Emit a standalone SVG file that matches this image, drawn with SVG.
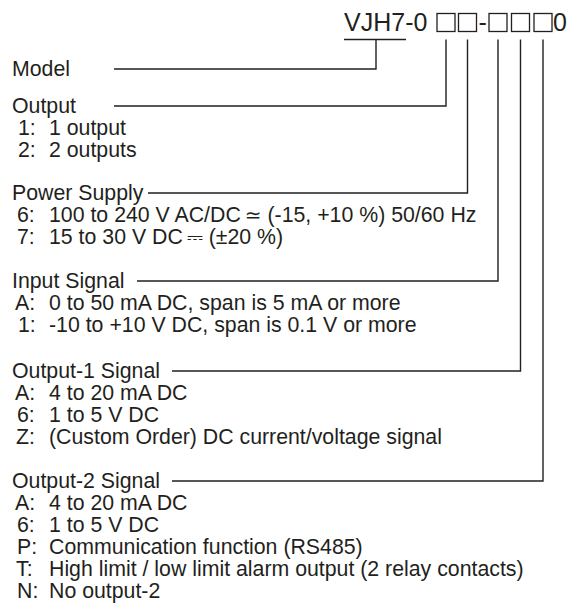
<svg xmlns="http://www.w3.org/2000/svg" width="567" height="612" viewBox="0 0 567 612">
<style>
text{font-family:"Liberation Sans",Arial,sans-serif;fill:#231f20}
.t{font-size:21.3px}
.h{font-size:25px}
.sym{font-family:"DejaVu Sans",sans-serif;font-size:20px}
.ln{fill:none;stroke:#231f20;stroke-width:1.4}
.box{fill:none;stroke:#231f20;stroke-width:1.3}
</style>
<rect width="567" height="612" fill="#fff"/>
<g id="code">
<text class="h" x="344" y="31">VJH7-0</text>
<rect class="box" x="437" y="13.5" width="18" height="18"/>
<rect class="box" x="458.5" y="13.5" width="18" height="18"/>
<text class="h" x="478.5" y="31">-</text>
<rect class="box" x="489" y="13.5" width="18" height="18"/>
<rect class="box" x="511.5" y="13.5" width="18" height="18"/>
<rect class="box" x="534" y="13.5" width="18" height="18"/>
<text class="h" x="553" y="31">0</text>
</g>
<g id="connectors">
<path class="ln" d="M344,39.5H406M376,39.5V69H114"/>
<path class="ln" d="M446,39.5V106H114"/>
<path class="ln" d="M467.5,39.5V193H148"/>
<path class="ln" d="M498,39.5V281H137"/>
<path class="ln" d="M520.5,39.5V371H172"/>
<path class="ln" d="M543,39.5V481H172"/>
</g>
<g id="model"><text class="t" x="12" y="76">Model</text></g>
<g id="output">
<text class="t" x="12" y="113">Output</text>
<text class="t" x="18" y="135">1:</text><text class="t" x="49" y="135">1 output</text>
<text class="t" x="18" y="157">2:</text><text class="t" x="49" y="157">2 outputs</text>
</g>
<g id="power">
<text class="t" x="12" y="200">Power Supply</text>
<text class="t" x="17" y="222">6:</text><text class="t" x="49" y="222">100 to 240 V AC/DC<tspan class="sym" dx="4">≃</tspan> (-15, +10 %) 50/60 Hz</text>
<text class="t" x="17" y="244">7:</text><text class="t" x="49" y="244">15 to 30 V DC<tspan class="sym" dx="4">⎓</tspan> (±20 %)</text>
</g>
<g id="input">
<text class="t" x="12" y="288">Input Signal</text>
<text class="t" x="15" y="310">A:</text><text class="t" x="49" y="310">0 to 50 mA DC, span is 5 mA or more</text>
<text class="t" x="18" y="332">1:</text><text class="t" x="49" y="332">-10 to +10 V DC, span is 0.1 V or more</text>
</g>
<g id="output1">
<text class="t" x="12" y="378">Output-1 Signal</text>
<text class="t" x="15" y="400">A:</text><text class="t" x="49" y="400">4 to 20 mA DC</text>
<text class="t" x="17" y="422">6:</text><text class="t" x="49" y="422">1 to 5 V DC</text>
<text class="t" x="16" y="444">Z:</text><text class="t" x="49" y="444">(Custom Order) DC current/voltage signal</text>
</g>
<g id="output2">
<text class="t" x="12" y="488">Output-2 Signal</text>
<text class="t" x="15" y="510">A:</text><text class="t" x="49" y="510">4 to 20 mA DC</text>
<text class="t" x="17" y="532">6:</text><text class="t" x="49" y="532">1 to 5 V DC</text>
<text class="t" x="17" y="554">P:</text><text class="t" x="49" y="554">Communication function (RS485)</text>
<text class="t" x="16" y="576">T:</text><text class="t" x="49" y="576">High limit / low limit alarm output (2 relay contacts)</text>
<text class="t" x="17" y="598">N:</text><text class="t" x="49" y="598">No output-2</text>
</g>
</svg>
